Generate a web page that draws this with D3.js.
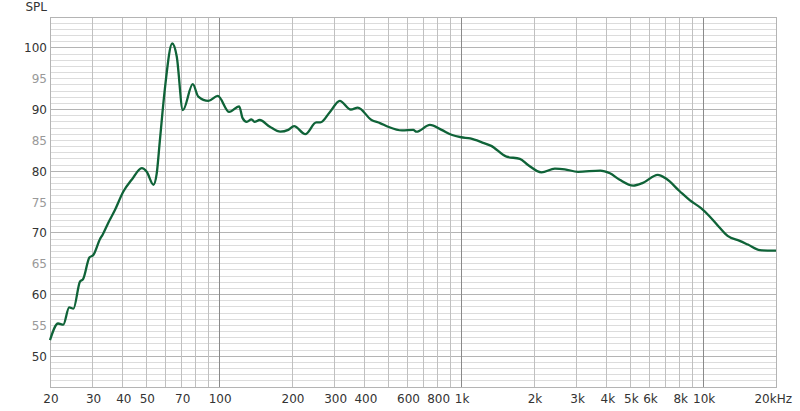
<!DOCTYPE html>
<html><head><meta charset="utf-8">
<script src="https://cdn.jsdelivr.net/npm/d3@7"></script>
<style>body{margin:0;background:#fff;}svg{display:block;font-family:"DejaVu Sans",sans-serif;}</style>
</head><body><svg id="c" width="800" height="411"></svg>
<script>
const freq = [20,21.6,22.7,24.0,25.0,26.6,27.4,29.1,30.2,32.2,33.0,34.8,37.1,40.2,43.5,47.9,50.2,53.5,55.2,56.9,59.6,64.0,66.8,70.8,77.8,82,90.3,98.7,110,121,125,130,136,140,147,162,179,193,204,227,252,262,287,315,350,374,426,462,499,570,634,654,743,830,912,1000,1090,1232,1331,1540,1748,1890,2148,2440,2680,3040,3760,4120,4520,5140,5640,6490,7020,8020,8800,9800,10620,11660,12620,14160,15300,17160,19460,20000];
const spl = [52.6,55.3,55.1,57.9,57.7,62.1,62.5,66.0,66.4,69.0,69.7,71.6,73.7,76.7,78.6,80.5,79.9,77.8,79.6,85.0,93.2,100.7,98.6,89.9,94.1,92.1,91.4,92.2,89.6,90.5,88.6,88.0,88.4,88.0,88.3,87.2,86.4,86.7,87.3,86.0,87.9,87.9,89.6,91.4,90.0,90.3,88.3,87.8,87.2,86.6,86.7,86.4,87.5,86.7,85.9,85.5,85.3,84.6,84.1,82.35,82.0,81.0,79.8,80.4,80.3,79.9,80.1,79.65,78.6,77.65,78.1,79.4,78.8,76.7,75.3,74.0,72.7,70.9,69.5,68.7,68.1,67.2,67.1,67.1];
const xTickLabels = [[20,"20"],[30,"30"],[40,"40"],[50,"50"],[70,"70"],[100,"100"],[200,"200"],[300,"300"],[400,"400"],[600,"600"],[800,"800"],[1000,"1k"],[2000,"2k"],[3000,"3k"],[4000,"4k"],[5000,"5k"],[6000,"6k"],[8000,"8k"],[10000,"10k"]];
const yTicks = [50,55,60,65,70,75,80,85,90,95,100];

const svg = d3.select("#c");
const L=50,R=776,T=17,B=387;
const x = d3.scaleLog().domain([20,20000]).range([L,R]);
const y = d3.scaleLinear().domain([45,105]).range([B,T]);

// horizontal grid
for(let v=46; v<105; v++){
  svg.append("line").attr("x1",L).attr("x2",R).attr("y1",y(v)).attr("y2",y(v))
    .attr("stroke", v%10===0 ? "#b4b4b4" : "#dcdcdc").attr("stroke-width",1).attr("shape-rendering","crispEdges");
}
// vertical grid
const vgrid=[];
for(const d of [10,100,1000]) for(let m=2;m<=9;m++){ if(d*m>=20) vgrid.push(d*m); }
vgrid.push(30);vgrid.push(10000);
const uniq=[...new Set([30,40,50,60,70,80,90,100,200,300,400,500,600,700,800,900,1000,2000,3000,4000,5000,6000,7000,8000,9000,10000])];
uniq.forEach(f=>{
  const dec = (f===100||f===1000||f===10000);
  svg.append("line").attr("x1",x(f)).attr("x2",x(f)).attr("y1",T).attr("y2",B)
    .attr("stroke", dec ? "#8a8a8a" : "#c0c0c0").attr("stroke-width",1).attr("shape-rendering","crispEdges");
});
// border
svg.append("rect").attr("x",L).attr("y",T).attr("width",R-L).attr("height",B-T)
  .attr("fill","none").attr("stroke","#b4b4b4").attr("shape-rendering","crispEdges");

// y labels
svg.selectAll(".yl").data(yTicks).enter().append("text")
  .attr("x",47).attr("y",d=>y(d)+4.5).attr("text-anchor","end").attr("font-size",12)
  .attr("fill",d=>d%10===0?"#333":"#999").text(d=>d);
svg.append("text").attr("x",47).attr("y",11).attr("text-anchor","end").attr("font-size",12).attr("fill","#333").text("SPL");
// x labels
svg.selectAll(".xl").data(xTickLabels).enter().append("text")
  .attr("x",d=>x(d[0])+1).attr("y",403).attr("text-anchor","middle").attr("font-size",12)
  .attr("fill","#333").text(d=>d[1]);
svg.append("text").attr("x",792).attr("y",403).attr("text-anchor","end").attr("font-size",12).attr("fill","#333").text("20kHz");

// curve
const data = freq.map((f,i)=>[f,spl[i]]);
const line = d3.line().x(d=>x(d[0])).y(d=>y(d[1])).curve(d3.curveMonotoneX);
svg.append("path").datum(data).attr("d",line).attr("fill","none")
  .attr("stroke","#0f6338").attr("stroke-width",2.3).attr("stroke-linejoin","round");
</script></body></html>
